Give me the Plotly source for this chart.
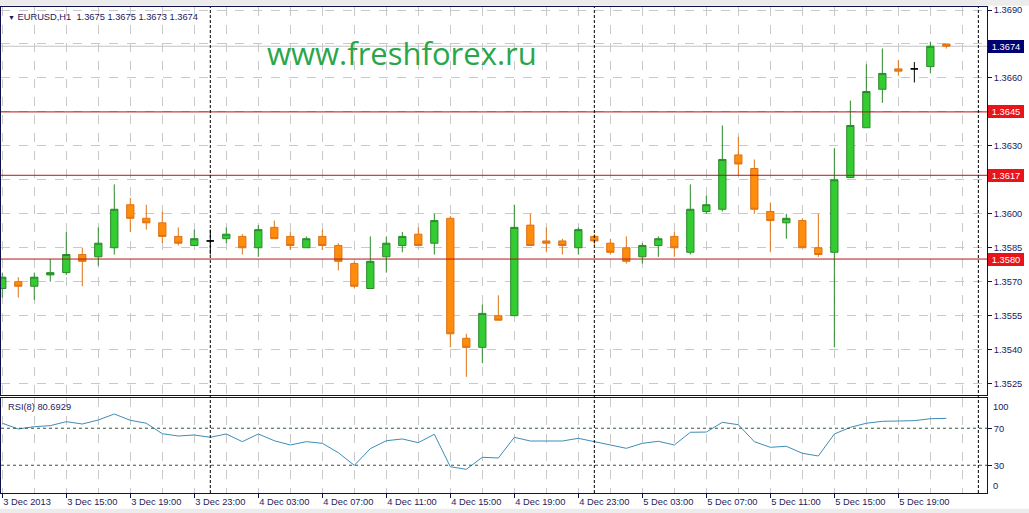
import plotly.graph_objects as go

# ---------------- data ----------------
OPEN = [1.3567, 1.3570, 1.3568, 1.3573, 1.3574, 1.3582, 1.3581, 1.3585, 1.3604, 1.3598,
        1.3596, 1.3590, 1.3586, 1.3588, 1.3589, 1.3590, 1.3585, 1.3594, 1.3590, 1.3585,
        1.3590, 1.3586, 1.3578, 1.3567, 1.3581, 1.3586, 1.3591, 1.3587, 1.3598, 1.3545,
        1.3541, 1.3555, 1.3555, 1.3595, 1.3588, 1.3588, 1.3585, 1.3590, 1.3587, 1.3585,
        1.3581, 1.3586, 1.3590, 1.3583, 1.3601, 1.3602, 1.3626, 1.3620, 1.3601, 1.3596,
        1.3597, 1.3585, 1.3583, 1.3616, 1.3638, 1.3655, 1.3664, 1.3664, 1.3665, 1.3675]
HIGH = [1.3574, 1.3572, 1.3574, 1.3580, 1.3592, 1.3585, 1.3594, 1.3613, 1.3607, 1.3604,
        1.3601, 1.3594, 1.3593, 1.3593, 1.3594, 1.3591, 1.3595, 1.3597, 1.3592, 1.3590,
        1.3593, 1.3587, 1.3579, 1.3590, 1.3590, 1.3592, 1.3594, 1.3600, 1.3599, 1.3547,
        1.3560, 1.3564, 1.3604, 1.3600, 1.3594, 1.3589, 1.3594, 1.3591, 1.3589, 1.3590,
        1.3587, 1.3590, 1.3592, 1.3613, 1.3608, 1.3639, 1.3634, 1.3624, 1.3605, 1.3600,
        1.3598, 1.3600, 1.3629, 1.3650, 1.3666, 1.3673, 1.3668, 1.3667, 1.3676, 1.3675]
LOW = [1.3563, 1.3563, 1.3562, 1.3570, 1.3573, 1.3568, 1.3577, 1.3582, 1.3592, 1.3593,
       1.3587, 1.3586, 1.3586, 1.3582, 1.3587, 1.3582, 1.3581, 1.3589, 1.3584, 1.3585,
       1.3584, 1.3575, 1.3567, 1.3567, 1.3574, 1.3583, 1.3586, 1.3582, 1.3541, 1.3528,
       1.3534, 1.3553, 1.3555, 1.3586, 1.3583, 1.3582, 1.3582, 1.3586, 1.3582, 1.3578,
       1.3578, 1.3581, 1.3581, 1.3582, 1.3600, 1.3601, 1.3617, 1.3600, 1.3583, 1.3589,
       1.3585, 1.3581, 1.3541, 1.3616, 1.3638, 1.3649, 1.3661, 1.3658, 1.3662, 1.3673]
CLOSE = [1.3572, 1.3568, 1.3572, 1.3574, 1.3582, 1.3579, 1.3587, 1.3602, 1.3598, 1.3596,
         1.3590, 1.3587, 1.3589, 1.3588, 1.3591, 1.3585, 1.3593, 1.3589, 1.3586, 1.3589,
         1.3586, 1.3579, 1.3568, 1.3579, 1.3587, 1.3590, 1.3586, 1.3597, 1.3547, 1.3541,
         1.3556, 1.3553, 1.3594, 1.3586, 1.3587, 1.3586, 1.3593, 1.3588, 1.3583, 1.3579,
         1.3586, 1.3589, 1.3585, 1.3602, 1.3604, 1.3624, 1.3622, 1.3602, 1.3597, 1.3598,
         1.3585, 1.3582, 1.3615, 1.3639, 1.3654, 1.3662, 1.3663, 1.3664, 1.3674, 1.3674]
RSI = [75.4, 69.2, 71.7, 72.8, 77.1, 74.6, 78.9, 85.4, 78.6, 75.4,
       64.1, 61.6, 62.7, 60.2, 63.8, 55.5, 63.8, 56.5, 51.9, 55.5,
       53.7, 43.6, 29.9, 47.9, 56.5, 58.4, 54.4, 63.5, 28.4, 25.6,
       38.6, 37.8, 60.2, 56.2, 56.2, 56.2, 59.1, 55.5, 51.9, 48.3,
       53.7, 55.9, 51.9, 65.6, 65.9, 76.4, 73.8, 55.5, 49.4, 50.5,
       42.9, 40.0, 63.8, 71.0, 75.4, 77.5, 77.8, 78.2, 80.3, 80.69]
DOJI = [13, 57]                      # bars with open == close (drawn black)
TICK_POS = [0, 4, 8, 12, 16, 20, 24, 28, 32, 36, 40, 44, 48, 52, 56]
TICK_LABELS = ["3 Dec 2013", "3 Dec 15:00", "3 Dec 19:00", "3 Dec 23:00",
               "4 Dec 03:00", "4 Dec 07:00", "4 Dec 11:00", "4 Dec 15:00",
               "4 Dec 19:00", "4 Dec 23:00", "5 Dec 03:00", "5 Dec 07:00",
               "5 Dec 11:00", "5 Dec 15:00", "5 Dec 19:00"]
GRID_POS = list(range(0, 62, 2))
PRICE_TICKS = [1.3525, 1.3540, 1.3555, 1.3570, 1.3585, 1.3600, 1.3615,
               1.3630, 1.3645, 1.3660, 1.3675, 1.3690]
HIDDEN_TICKS = [1.3615, 1.3645, 1.3675]   # covered by the price boxes
LEVELS = [1.3645, 1.3617, 1.3580]
LAST_PRICE = 1.3674
SEPARATORS = [13, 37, 61]            # day starts: 4 Dec, 5 Dec, 6 Dec 00:00
RSI_LEVELS = [70, 30]
HEADER = "EURUSD,H1\u00a0\u00a01.3675 1.3675 1.3673 1.3674"
RSI_TITLE = "RSI(8) 80.6929"
WATERMARK = "www.freshforex.ru"

# ---------------- styling ----------------
FONT = "Tahoma, 'Liberation Sans', Arial, sans-serif"
FS = 9.3
TXT = "#1a1a5e"
FRAME = "#10104a"
GRID = "#c9c9c9"

X = list(range(len(OPEN)))
norm = [i for i in X if i not in DOJI]

fig = go.Figure()
fig.add_trace(go.Candlestick(
    x=[X[i] for i in norm],
    open=[OPEN[i] for i in norm], high=[HIGH[i] for i in norm],
    low=[LOW[i] for i in norm], close=[CLOSE[i] for i in norm],
    increasing=dict(line=dict(color="#2b8a2b", width=1), fillcolor="#33cc33"),
    decreasing=dict(line=dict(color="#dc7318", width=1), fillcolor="#ff8c0a"),
    xaxis="x", yaxis="y", hoverinfo="skip"))
fig.add_trace(go.Candlestick(
    x=DOJI, open=[OPEN[i] for i in DOJI], high=[HIGH[i] for i in DOJI],
    low=[LOW[i] for i in DOJI], close=[CLOSE[i] for i in DOJI],
    increasing=dict(line=dict(color="#000000", width=1), fillcolor="#000000"),
    decreasing=dict(line=dict(color="#000000", width=1), fillcolor="#000000"),
    xaxis="x", yaxis="y", hoverinfo="skip"))
fig.add_trace(go.Scatter(x=X, y=RSI, mode="lines",
                         line=dict(color="#3d8db8", width=1),
                         xaxis="x2", yaxis="y2", hoverinfo="skip"))

shapes = []
# top / bottom gray window strips
shapes.append(dict(type="rect", xref="paper", yref="paper", x0=-0.01, x1=1.05,
                   y0=1.0025, y1=1.02, fillcolor="#ececec", line=dict(width=0), layer="below"))
shapes.append(dict(type="rect", xref="paper", yref="paper", x0=-0.01, x1=1.05,
                   y0=-0.05, y1=-0.0325, fillcolor="#ececec", line=dict(width=0), layer="below"))
# last price line
shapes.append(dict(type="line", xref="paper", yref="y", x0=0, x1=1, y0=LAST_PRICE, y1=LAST_PRICE,
                   line=dict(color="#c4c4c4", width=1), layer="below"))
for lv in LEVELS:
    shapes.append(dict(type="line", xref="paper", yref="y", x0=0, x1=1, y0=lv, y1=lv,
                       line=dict(color="#b81414", width=1), layer="above"))
for lv in RSI_LEVELS:
    shapes.append(dict(type="line", xref="paper", yref="y2", x0=0, x1=1, y0=lv, y1=lv,
                       line=dict(color="#35553a", width=1, dash="3px,3px"), layer="above"))
for s in SEPARATORS:
    shapes.append(dict(type="line", xref="x", yref="paper", x0=s, x1=s, y0=0, y1=1,
                       line=dict(color="#000000", width=1, dash="3px,2px"), layer="above"))

annotations = []
for lv in LEVELS:
    annotations.append(dict(xref="paper", yref="y", x=1, y=lv, xanchor="left", yanchor="middle",
                            xshift=1, text=f"{lv:.4f}", showarrow=False, bgcolor="#e8141a",
                            bordercolor="#e8141a", borderwidth=1, borderpad=0, width=34, height=11,
                            font=dict(family=FONT, size=FS, color="white")))
annotations.append(dict(xref="paper", yref="y", x=1, y=LAST_PRICE, xanchor="left", yanchor="middle",
                        xshift=1, text=f"{LAST_PRICE:.4f}", showarrow=False, bgcolor="#00006e",
                        bordercolor="#00006e", borderwidth=1, borderpad=0, width=34, height=11,
                        font=dict(family=FONT, size=FS, color="white")))
annotations.append(dict(xref="paper", yref="paper", x=0.005, y=0.9794, xanchor="left",
                        yanchor="middle", showarrow=False,
                        text="<span style='font-size:7px'>\u25bc</span>\u00a0" + HEADER,
                        font=dict(family=FONT, size=FS, color=TXT)))
annotations.append(dict(xref="paper", yref="paper", x=0.005, y=0.177, xanchor="left",
                        yanchor="middle", showarrow=False, text=RSI_TITLE,
                        font=dict(family=FONT, size=FS, color=TXT)))
annotations.append(dict(xref="paper", yref="paper", x=0.2677, y=0.906, xanchor="left",
                        yanchor="middle", showarrow=False, text=WATERMARK,
                        font=dict(family="'Open Sans', 'Noto Sans', sans-serif", size=31,
                                  color="#2aa64a")))
annotations.append(dict(xref="paper", yref="y2", x=1, y=100, xanchor="left", yanchor="top",
                        xshift=4, showarrow=False, text="100",
                        font=dict(family=FONT, size=FS, color=TXT)))
annotations.append(dict(xref="paper", yref="y2", x=1, y=0, xanchor="left", yanchor="bottom",
                        xshift=4, showarrow=False, text="0",
                        font=dict(family=FONT, size=FS, color=TXT)))

price_text = ["" if t in HIDDEN_TICKS else f"{t:.4f}" for t in PRICE_TICKS]

fig.update_layout(
    width=1029, height=513, autosize=False,
    margin=dict(l=1, r=42, t=7, b=20),
    paper_bgcolor="white", plot_bgcolor="white",
    showlegend=False, hovermode=False, boxgap=0.35,
    font=dict(family=FONT, size=FS, color=TXT),
    shapes=shapes, annotations=annotations,
    xaxis=dict(domain=[0, 1], anchor="y", matches="x2", range=[-0.08, 61.54],
               tickmode="array", tickvals=GRID_POS, showticklabels=False, ticks="",
               showgrid=True, gridcolor=GRID, griddash="dash", gridwidth=1,
               showline=True, mirror=True, linecolor=FRAME, linewidth=1,
               zeroline=False, rangeslider=dict(visible=False), fixedrange=True),
    yaxis=dict(domain=[0.2016, 1], anchor="x", side="right", range=[1.351995, 1.369133],
               tickmode="array", tickvals=PRICE_TICKS, ticktext=price_text,
               ticks="outside", ticklen=4, tickcolor=FRAME,
               showgrid=True, gridcolor=GRID, griddash="dash", gridwidth=1,
               showline=True, mirror=True, linecolor=FRAME, linewidth=1,
               zeroline=False, tickfont=dict(family=FONT, size=FS, color=TXT)),
    xaxis2=dict(domain=[0, 1], anchor="y2", range=[-0.08, 61.54],
                tickmode="array", tickvals=TICK_POS, ticktext=TICK_LABELS,
                ticklabelposition="outside right",
                ticks="outside", ticklen=4, tickcolor=FRAME,
                showgrid=True, gridcolor=GRID, griddash="dash", gridwidth=1,
                minor=dict(tickmode="array", tickvals=GRID_POS, showgrid=True,
                           gridcolor=GRID, griddash="dash", ticks=""),
                showline=True, mirror=True, linecolor=FRAME, linewidth=1,
                zeroline=False, rangeslider=dict(visible=False),
                tickfont=dict(family=FONT, size=FS, color=TXT)),
    yaxis2=dict(domain=[0, 0.1955], anchor="x2", side="right", range=[0, 102.7],
                tickmode="array", tickvals=RSI_LEVELS, ticktext=[str(v) for v in RSI_LEVELS],
                ticks="outside", ticklen=4, tickcolor=FRAME, showgrid=False,
                showline=True, mirror=True, linecolor=FRAME, linewidth=1,
                zeroline=False, tickfont=dict(family=FONT, size=FS, color=TXT)),
)

fig.write_html("out.html", config={"displayModeBar": False, "staticPlot": True},
               post_script="document.body.style.margin='0px';document.body.style.overflow='hidden';")
